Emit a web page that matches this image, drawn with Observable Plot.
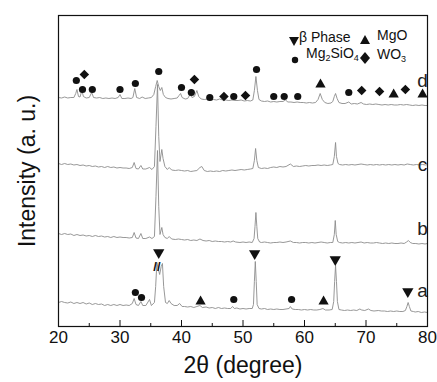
<!DOCTYPE html>
<html>
<head>
<meta charset="utf-8">
<script src="https://cdn.jsdelivr.net/npm/d3@7"></script>
<script src="https://cdn.jsdelivr.net/npm/@observablehq/plot@0.6"></script>
<style>
  html, body { margin: 0; padding: 0; background: #fff; }
  #wrap { position: relative; width: 437px; height: 382px; font-family: Arial, "Liberation Sans", sans-serif; }
  .lg { position: absolute; font-size: 14px; color: #111; white-space: nowrap; line-height: 1; }
  .lg sub { font-size: 9px; vertical-align: -3px; }
  .sym { position: absolute; }
</style>
</head>
<body>
<div id="wrap"></div>
<script>
// ---- data (2θ in degrees, intensity in arbitrary units incl. stacking offset) ----
const curveA = [[20,24],[20.5,25],[21,24],[21.5,23.5],[22,24.5],[22.5,23],[23,24],[23.5,23],[24,24],[24.5,22.5],[25,23.5],[25.5,22],[26,23],[26.5,22],[27,22.5],[27.5,21],[28,22],[28.5,21],[29,22],[29.5,21],[30,22],[30.5,21],[31,21.5],[31.5,21],[32,23],[32.3,28],[32.6,22],[33,21],[33.4,25],[33.7,21],[34.2,21],[34.8,27],[35.1,21],[35.6,24],[35.8,40],[36.0,64],[36.2,58],[36.45,52],[36.7,60],[36.9,63],[37.1,40],[37.4,24],[37.7,23],[38.0,26],[38.3,23],[38.8,21],[39.3,21],[39.7,23],[40.1,20],[40.5,20],[41,19.5],[41.5,20],[42,19],[42.5,20],[43,21],[43.4,19],[44,19.5],[44.5,18.5],[45,19],[45.5,18],[46,19],[46.5,18],[47,18.5],[47.5,18],[48,18],[48.3,20],[48.6,18],[49,18.5],[49.5,17.5],[50,18],[50.5,17.5],[51,18],[51.5,18],[51.7,22],[51.85,45],[52.0,65],[52.15,45],[52.3,22],[52.6,18],[53,17.5],[53.5,18],[54,17],[54.5,17.5],[55,17],[55.5,17.5],[56,17],[56.5,17],[57,17.5],[57.5,18],[57.7,20],[58,17.5],[58.5,17],[59,17],[59.5,16.5],[60,17],[60.5,16.5],[61,17],[61.5,16.5],[62,16.5],[62.5,17],[63,18],[63.4,16.5],[64,16.5],[64.5,17],[64.75,25],[64.9,45],[65.05,61],[65.2,45],[65.35,25],[65.6,17],[66,16.5],[66.5,16],[67,16.5],[67.5,16],[68,16.5],[68.5,16],[69,17.5],[69.3,16.5],[69.8,16],[70.4,17.5],[70.8,16],[71.3,15.5],[72,16],[72.5,15.5],[73,15.5],[73.5,15],[74,15.5],[74.5,15],[75,15.5],[75.5,15],[76,15],[76.4,16],[76.65,20],[76.85,24],[77.05,20],[77.3,15.5],[77.7,15],[78,14.5],[78.5,15],[79,14],[79.5,14.5],[80,14]];

const curveB = [[20,93],[20.5,92],[21,93],[21.5,92],[22,92.5],[22.5,91],[23,92],[23.5,91],[24,91.5],[24.5,90.5],[25,91],[25.5,90],[26,91],[26.5,90],[27,90.5],[27.5,89.5],[28,90],[28.5,89],[29,90],[29.5,89],[30,89.5],[30.5,89],[31,89],[31.5,88.5],[32,89],[32.3,94],[32.6,88.5],[33,88],[33.4,93],[33.7,88],[34.2,88],[34.8,89.5],[35.2,88],[35.6,90],[35.85,130],[36.1,176],[36.3,120],[36.5,92],[36.8,99],[37.0,92],[37.3,89],[37.7,88],[38.0,90],[38.4,87.5],[39,87],[39.5,87.5],[40,87],[40.5,86.5],[41,87],[41.5,86],[42,86.5],[42.5,86],[43,87.5],[43.5,86],[44,85.5],[44.5,86],[45,85],[45.5,85.5],[46,85],[46.5,85],[47,84.5],[47.5,85],[48,84.5],[48.4,85.5],[48.8,84.5],[49.5,84],[50,84.5],[50.5,84],[51,84.5],[51.5,84],[51.8,88],[51.95,100],[52.1,114],[52.25,100],[52.4,88],[52.7,84.5],[53,84],[53.5,84.5],[54,84],[54.5,83.5],[55,84],[55.5,84],[56,84.5],[56.5,84],[57,84.5],[57.7,85.5],[58.2,84],[58.7,84],[59.2,83.5],[59.7,84],[60.2,84],[60.7,83.5],[61.2,84],[61.7,83.5],[62.2,84],[62.7,84.5],[63.2,84],[63.7,83.5],[64.2,84],[64.6,84],[64.85,92],[65.0,106],[65.15,92],[65.4,85],[65.7,84],[66.2,83.5],[66.7,84],[67.2,83.5],[67.7,84],[68.2,83.5],[68.7,84],[69.2,84.5],[69.7,83.5],[70.2,84],[70.7,83.5],[71.2,83.5],[71.7,84],[72.2,83.5],[72.7,83],[73.2,83.5],[73.7,83],[74.2,83.5],[74.7,83],[75.2,83],[75.7,83.5],[76.2,83],[76.6,84.5],[76.9,86],[77.2,84],[77.6,83],[78.1,83],[78.6,82.5],[79.1,83],[79.6,82.5],[80,83]];

const curveC = [[20,163],[20.5,162],[21,163],[21.5,162],[22,162.5],[22.5,161.5],[23,162],[23.5,161],[24,161.5],[24.5,160.5],[25,161],[25.5,160],[26,160.5],[26.5,159.5],[27,160],[27.5,159],[28,160],[28.5,159],[29,159.5],[29.5,158.5],[30,159],[30.5,158.5],[31,158.5],[31.5,158],[32,159],[32.3,164],[32.6,158],[33,157.5],[33.4,161],[33.7,157.5],[34.2,157.5],[34.8,159],[35.2,157],[35.6,160],[35.85,200],[36.1,242],[36.3,190],[36.5,165],[36.8,177],[37.0,168],[37.3,160],[37.7,157],[38.0,159],[38.4,156.5],[39,156],[39.5,156.5],[40,156],[40.5,155.5],[41,156],[41.5,155],[42,155.5],[42.5,156],[43,159],[43.3,160],[43.7,156],[44.2,155],[44.7,155.5],[45.2,155],[45.7,155.5],[46.2,155],[46.7,156],[47.2,155.5],[47.7,156],[48.2,156.5],[48.7,156],[49.2,156.5],[49.7,157],[50.2,156.5],[50.7,157],[51.2,157.5],[51.6,158],[51.85,166],[52.05,178],[52.25,166],[52.5,159],[53,158],[53.5,158.5],[54,158],[54.5,159],[55,159.5],[55.5,159],[56,160],[56.5,159.5],[57,160],[57.7,162.5],[58.2,160],[58.7,160.5],[59.2,160],[59.7,160.5],[60.2,161],[60.7,160.5],[61.2,161],[61.7,161],[62.2,161.5],[62.7,161],[63.2,161.5],[63.7,161],[64.2,161.5],[64.6,162],[64.85,170],[65.05,184],[65.2,170],[65.45,163],[65.7,162],[66.2,161.5],[66.7,162],[67.2,161.5],[67.7,162],[68.2,161.5],[68.7,162],[69.2,162.5],[69.7,162],[70.2,161.5],[70.7,162],[71.2,161.5],[71.7,162],[72.2,161.5],[72.7,162],[73.2,161.5],[73.7,162],[74.2,161.5],[74.7,162],[75.2,161.5],[75.7,162],[76.2,161.5],[76.7,162.5],[77.2,162],[77.7,161.5],[78.2,162],[78.7,161.5],[79.2,162],[79.7,161.5],[80,162]];

const curveD = [[20,229],[20.5,228.5],[21,229.5],[21.5,228.5],[22,229],[22.5,229],[22.8,233],[23.0,237],[23.25,230],[23.5,229.5],[23.8,236],[24.05,230],[24.5,228.5],[25,229],[25.4,234],[25.7,229],[26.2,228.5],[26.7,229],[27.2,228],[27.7,228.5],[28.2,228],[28.7,228.5],[29.2,228],[29.7,229],[30.0,232],[30.3,228],[30.8,228],[31.3,228.5],[31.8,228],[32.1,229],[32.4,238],[32.7,229],[33.2,228],[33.6,229.5],[34.1,228],[34.6,228.5],[35.1,229],[35.5,232],[35.8,240],[36.05,246],[36.3,240],[36.55,236],[36.8,239],[37.05,232],[37.4,229],[37.8,228],[38.3,227.5],[38.8,228],[39.3,228.5],[39.6,231],[39.85,233],[40.1,229],[40.6,227.5],[41.0,228],[41.4,232],[41.7,229],[42.1,230],[42.5,236],[42.8,230],[43.2,227.5],[43.7,227],[44.2,227.5],[44.7,226.5],[45.2,227],[45.7,226.5],[46.2,227.5],[46.7,226.5],[47.2,226.5],[47.7,226],[48.2,226.5],[48.7,226],[49.2,226],[49.7,226.5],[50.2,225.5],[50.7,226],[51.2,225.5],[51.6,226.5],[51.85,236],[52.1,250],[52.35,236],[52.6,227],[53,225.5],[53.5,225],[54,225.5],[54.5,224.5],[55,225],[55.5,224.5],[56,225],[56.5,225],[56.9,226.5],[57.3,224.5],[57.8,224.5],[58.3,224],[58.8,224.5],[59.3,224],[59.8,224],[60.3,223.5],[60.8,224],[61.3,223.5],[61.8,224],[62.2,227],[62.55,233],[62.9,227],[63.3,224],[63.8,223],[64.3,223.5],[64.6,225],[64.85,230],[65.05,233],[65.3,228],[65.6,224],[66.1,223],[66.6,223],[67.2,224.5],[67.6,222.5],[68.1,223],[68.6,222.5],[69.2,224],[69.6,222.5],[70.1,222],[70.6,222.5],[71.1,222],[71.6,222.5],[72.1,222],[72.6,221.5],[73.1,222],[73.6,221.5],[74.1,222],[74.6,221.5],[75.1,221.5],[75.6,222],[76.1,221.5],[76.6,222],[77.1,221.5],[77.6,221],[78.1,221.5],[78.6,221],[79.1,221.5],[79.6,221],[80,221]];

// phase markers (2θ, intensity position)
const betaMarks = [[36.3,74],[51.9,73],[65.0,67],[76.8,35]];
const mgoMarks = [[43.1,25],[63.1,25],[62.6,242],[74.5,232],[79.2,232]];
const mg2sio4Marks = [[32.5,34],[33.5,29],[48.5,27],[57.9,27],[22.9,246],[23.9,237],[25.5,237],[30.0,237],[32.5,243],[36.3,255],[40.0,239],[41.6,234],[44.6,229],[48.5,230],[52.2,257],[55.0,230],[56.7,230],[58.9,230],[67.2,234]];
const wo3Marks = [[24.2,252],[42.1,247],[46.9,230],[50.4,231],[69.3,236],[72.2,235],[76.4,237]];
const breakMarks = [[36.0,60]];

const curveLabels = ["a","b","c","d"];
const curveLabelX = [79.2,79.2,79.2,79.2];
const curveLabelY = [36,98,162,246];

const xTicks = [20,30,40,50,60,70,80];
const xMinorTicks = [25,35,45,55,65,75];
const xTitle = "2θ (degree)";
const yTitle = "Intensity (a. u.)";

// ---- chart ----
const font = 'Arial, "Liberation Sans", sans-serif';
const lineStyle = {x: d => d[0], y: d => d[1], stroke: "#8c8c8c", strokeWidth: 0.9};
const labelData = curveLabels.map((t, i) => ({t, x: curveLabelX[i], y: curveLabelY[i]}));

const chart = Plot.plot({
  width: 437,
  height: 382,
  marginLeft: 58,
  marginRight: 10,
  marginTop: 15,
  marginBottom: 56,
  style: {fontFamily: font, background: "white", color: "#111"},
  x: {domain: [20, 80], axis: null},
  y: {domain: [0, 311], axis: null},
  marks: [
    Plot.line(curveA, lineStyle),
    Plot.line(curveB, lineStyle),
    Plot.line(curveC, lineStyle),
    Plot.line(curveD, lineStyle),
    Plot.text(breakMarks, {x: d => d[0], y: d => d[1], text: () => "//", fontSize: 13, fontWeight: "bold", fill: "#111"}),
    Plot.dot(betaMarks, {x: d => d[0], y: d => d[1], symbol: "triangle", rotate: 180, r: 4.2, fill: "#111", stroke: "none"}),
    Plot.dot(mgoMarks, {x: d => d[0], y: d => d[1], symbol: "triangle", r: 3.8, fill: "#111", stroke: "none"}),
    Plot.dot(mg2sio4Marks, {x: d => d[0], y: d => d[1], r: 3.6, fill: "#111", stroke: "none"}),
    Plot.dot(wo3Marks, {x: d => d[0], y: d => d[1], symbol: "diamond2", r: 4.3, fill: "#111", stroke: "none"}),
    Plot.text(labelData, {x: "x", y: "y", text: "t", fontSize: 19, fill: "#222"}),
    Plot.ruleX(xTicks, {x: d => d, y1: 0, y2: 6, stroke: "#111", strokeWidth: 1}),
    Plot.ruleX(xMinorTicks, {x: d => d, y1: 0, y2: 3, stroke: "#111", strokeWidth: 1}),
    Plot.text(xTicks, {x: d => d, frameAnchor: "bottom", dy: 16, text: d => String(d), fontSize: 17, fill: "#111"}),
    Plot.text([xTitle], {frameAnchor: "bottom", dy: 46, text: d => d, fontSize: 23, fill: "#111"}),
    Plot.text([yTitle], {frameAnchor: "left", textAnchor: "middle", dx: -31, rotate: -90, text: d => d, fontSize: 23, fill: "#111"}),
    Plot.frame({stroke: "#111", strokeWidth: 1.2})
  ]
});

const wrap = document.getElementById("wrap");
wrap.appendChild(chart);

// legend overlay (inside the plot frame, upper right)
function addSym(svg, left, top) {
  const d = document.createElement("div");
  d.className = "sym";
  d.style.left = left + "px";
  d.style.top = top + "px";
  d.innerHTML = svg;
  wrap.appendChild(d);
}
function addText(html, left, top) {
  const d = document.createElement("div");
  d.className = "lg";
  d.style.left = left + "px";
  d.style.top = top + "px";
  d.innerHTML = html;
  wrap.appendChild(d);
}
addSym('<svg width="10" height="10"><polygon points="0,1 10,1 5,10" fill="#111"/></svg>', 289, 32);
addText("β Phase", 299, 30);
addSym('<svg width="10" height="10"><polygon points="0,9 10,9 5,0" fill="#111"/></svg>', 360, 31);
addText("MgO", 377, 28);
addSym('<svg width="8" height="8"><circle cx="4" cy="4" r="3.2" fill="#111"/></svg>', 291, 50);
addText("Mg<sub>2</sub>SiO<sub>4</sub>", 306, 46);
addSym('<svg width="10" height="12"><polygon points="5,0 10,6 5,12 0,6" fill="#111"/></svg>', 360, 50);
addText("WO<sub>3</sub>", 377, 47);
</script>
</body>
</html>
